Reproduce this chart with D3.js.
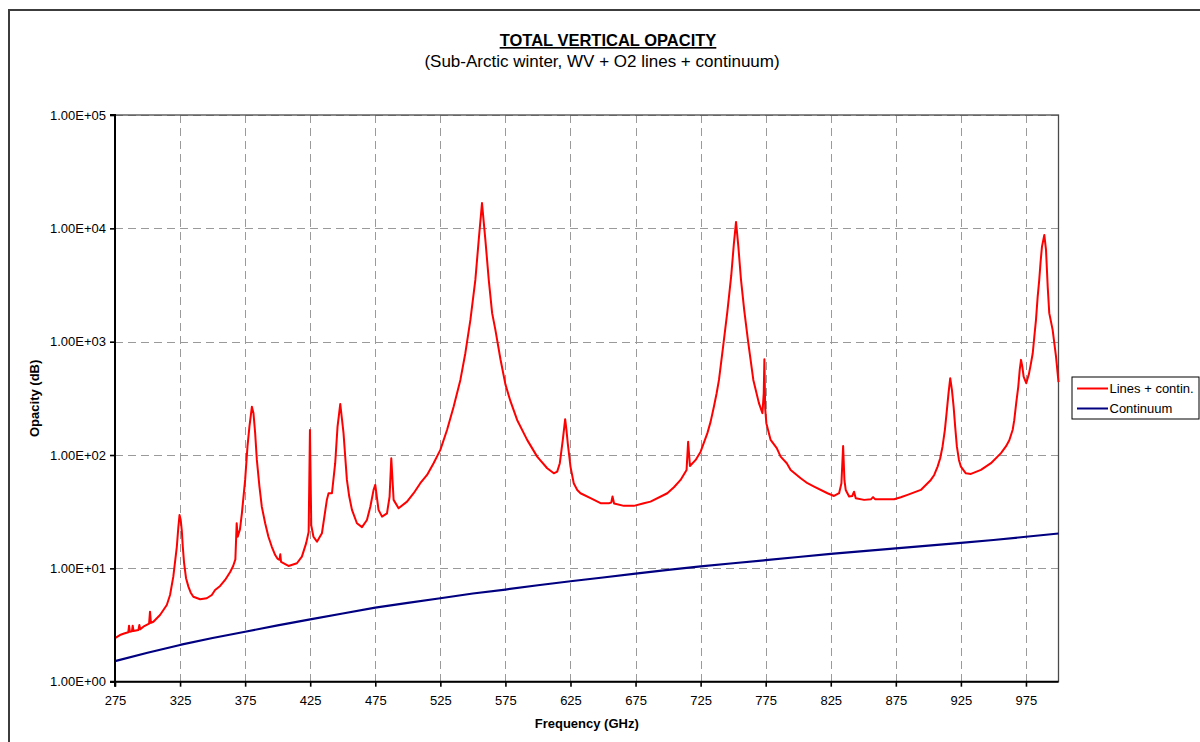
<!DOCTYPE html>
<html>
<head>
<meta charset="utf-8">
<script src="https://cdn.jsdelivr.net/npm/d3@7"></script>
<style>
  html, body { margin: 0; padding: 0; background: #ffffff; }
  svg { display: block; font-family: "Liberation Sans", Arial, sans-serif; }
</style>
</head>
<body>
<svg id="chart" width="1200" height="742"></svg>
<script>
// Total vertical opacity, sub-arctic winter atmosphere (WV + O2 lines + continuum)
const freqGHz = [
  275, 278.8, 282, 285.2, 285.8, 286.4, 288, 288.6, 289.2, 293,
  293.7, 294.4, 296.8, 301.2, 301.9, 302.6, 304.5, 309.6, 314.8, 317.3,
  319.8, 322.5, 323.7, 324.6, 325.5, 326.3, 327.1, 328.1, 329.6, 331.4,
  333.2, 335.2, 340.4, 345.5, 349.4, 351.9, 355.8, 359.6, 363.5, 365.8,
  367.5, 368.5, 369.3, 371, 372.5, 375, 376.8, 378.3, 380.2, 381.4,
  382.7, 384, 386, 387.8, 390.4, 392.9, 395.5, 398.1, 399.8, 401.4,
  402, 402.6, 408.3, 414.8, 418.6, 421.9, 423.8, 424.8, 425.8, 427.5,
  430.2, 434, 437.8, 439.1, 441.7, 444.2, 446, 448.1, 450.6, 451.9,
  453.2, 455, 457.1, 460.9, 464.8, 468.6, 471.2, 473.7, 475, 477.5,
  480.2, 484, 486, 487.3, 489.1, 492.9, 499.4, 504.5, 509.6, 514.8,
  519.8, 525, 530.2, 535.2, 540.4, 544.2, 548.1, 551.9, 554.5, 557,
  559.6, 562.2, 564.8, 567.3, 571.2, 575, 578.8, 584, 591.7, 599.4,
  607.1, 612.2, 614.8, 616.8, 619.1, 620.9, 621.9, 622.9, 625, 627.5,
  630.2, 632.7, 640.4, 648.1, 654.5, 656.3, 657.3, 658.5, 666, 673.7,
  681.4, 686.5, 699.4, 704.5, 709.6, 714.2, 715.4, 716.8, 721.2, 725,
  730.2, 732.7, 735.2, 737.3, 739.1, 742.3, 745.5, 748.5, 750.5, 752.2,
  754, 756, 758.5, 761.5, 765.5, 769.8, 772.5, 773.5, 774, 774.6,
  775.5, 778.8, 783.5, 786.5, 791.2, 794.2, 801.9, 807.1, 812.2, 822.5,
  827.5, 831.4, 833.2, 834.5, 835.5, 836.5, 839.1, 841.5, 842.9, 844.2,
  850.6, 856, 857.5, 859, 866, 873.7, 878.8, 884, 894.2, 901.9,
  904.5, 907.1, 909.1, 910.9, 912.7, 914, 915.5, 916.8, 918.1, 919.4,
  920.6, 921.9, 923.5, 925, 928.8, 932.7, 940.4, 948.1, 955.8, 959.6,
  962.2, 964.8, 966, 967.5, 969.1, 970.2, 971.2, 972.2, 973.2, 975.2,
  977.3, 978.8, 980.2, 981.4, 982.7, 984, 985.2, 986.2, 987.3, 989.1,
  990.4, 991.7, 992.9, 995.5, 998.1, 1000
];
const totalDb = [
  2.42, 2.58, 2.66, 2.73, 3.12, 2.76, 2.78, 3.12, 2.80, 2.86,
  3.16, 2.90, 3.06, 3.25, 4.15, 3.30, 3.38, 3.88, 4.75, 5.82,
  8.45, 15.5, 23.3, 29.6, 26.7, 21.8, 15.5, 11.1, 8.18, 6.9,
  6.1, 5.62, 5.34, 5.45, 5.82, 6.45, 7.0, 7.9, 9.3, 10.5,
  12.0, 25, 19, 22, 30.6, 60.3, 119, 178, 267, 234,
  156, 90.5, 52.6, 35, 25, 19, 15.5, 13.1, 12.2, 11.9,
  13.3, 11.4, 10.5, 11.1, 12.7, 16.7, 21, 166, 24, 19.0,
  17.2, 20.4, 40.2, 46, 46, 84.7, 178, 282, 156, 96.8,
  60.3, 43, 32.8, 25, 23.1, 26.7, 35, 49.2, 54.5, 32.8,
  28.6, 30.6, 43, 93.7, 40.2, 33.9, 38.8, 46, 56.4, 66.7,
  84.7, 111, 167, 267, 460, 791, 1556, 3510, 7920, 16700,
  7920, 3510, 1786, 1270, 700, 420, 300, 204, 136, 96.8,
  76.4, 69, 71.4, 84.7, 136, 207, 167, 127, 79, 56.4,
  49.2, 46, 41.6, 37.6, 37.6, 38, 43, 37.4, 35.6, 35.6,
  37.6, 38.8, 46, 52, 60.3, 73.9, 131, 80.1, 90.5, 107,
  156, 197, 267, 351, 460, 910, 1820, 3800, 7200, 11400,
  6900, 3550, 1900, 1000, 460, 287, 234, 350, 700, 260,
  191, 136, 115, 96.8, 84.7, 73.9, 62.4, 56.4, 52.6, 46,
  43.5, 46, 56.4, 120, 60, 49.2, 43, 43.5, 47.5, 41.6,
  40.2, 40.8, 42.5, 40.8, 40.7, 40.7, 42.4, 44.5, 49.2, 60.3,
  66.7, 79, 93.7, 119, 167, 234, 351, 476, 376, 267,
  178, 119, 90.5, 79, 69, 68.1, 73.9, 84.7, 104, 119,
  135, 167, 203, 287, 402, 564, 691, 603, 492, 430,
  520, 640, 791, 1100, 1556, 2500, 3510, 5000, 6900, 8750,
  6460, 3060, 1786, 1270, 738, 440
];

const contFreqGHz = [
  275, 300, 325, 350, 375, 400, 425, 450, 475, 500, 525, 550, 575, 600, 625,
  650, 675, 700, 725, 750, 775, 800, 825, 850, 875, 900, 925, 950, 975, 1000
];
const continuumDb = [
  1.52, 1.80, 2.11, 2.43, 2.76, 3.14, 3.55, 4.0, 4.5, 4.96, 5.45, 6.0, 6.5, 7.1, 7.7,
  8.3, 9.0, 9.7, 10.4, 11.1, 11.8, 12.6, 13.4, 14.2, 15.0, 15.9, 16.8, 17.8, 19.0, 20.3
];

const xTicks = [275, 325, 375, 425, 475, 525, 575, 625, 675, 725, 775, 825, 875, 925, 975];
const yTicks = [1, 10, 100, 1000, 10000, 100000];
const yTickLabels = ["1.00E+00", "1.00E+01", "1.00E+02", "1.00E+03", "1.00E+04", "1.00E+05"];

const seriesNames = ["Lines + contin.", "Continuum"];
const seriesColors = ["#ff0000", "#000080"];

const titleText = "TOTAL VERTICAL OPACITY";
const subtitleText = "(Sub-Arctic winter, WV + O2 lines + continuum)";
const xTitle = "Frequency (GHz)";
const yTitle = "Opacity (dB)";

// ---- layout ----
const plot = { left: 115, right: 1058.5, top: 115, bottom: 681.7 };

const svg = d3.select("#chart");

svg.append("rect").attr("width", 1200).attr("height", 742).attr("fill", "#ffffff");

// chart-area frame
svg.append("rect")
  .attr("x", 9).attr("y", 10).attr("width", 1200).attr("height", 760)
  .attr("fill", "none").attr("stroke", "#3c3c3c").attr("stroke-width", 2);

const x = d3.scaleLinear().domain([275, 1000]).range([plot.left, plot.right]);
const y = d3.scaleLog().domain([1, 100000]).range([plot.bottom, plot.top]);

// gridlines
const grid = svg.append("g").attr("stroke", "#9a9a9a").attr("stroke-width", 1)
  .attr("stroke-dasharray", "8,5").attr("fill", "none");
grid.selectAll("line.h").data(yTicks.slice(1)).join("line")
  .attr("class", "h")
  .attr("x1", plot.left).attr("x2", plot.right)
  .attr("y1", d => Math.round(y(d)) + 0.5).attr("y2", d => Math.round(y(d)) + 0.5);
grid.selectAll("line.v").data(xTicks.slice(1)).join("line")
  .attr("class", "v")
  .attr("y1", plot.top).attr("y2", plot.bottom)
  .attr("x1", d => Math.round(x(d)) + 0.5).attr("x2", d => Math.round(x(d)) + 0.5);

// plot-area border
svg.append("rect")
  .attr("x", plot.left).attr("y", plot.top)
  .attr("width", plot.right - plot.left).attr("height", plot.bottom - plot.top)
  .attr("fill", "none").attr("stroke", "#4a4a4a").attr("stroke-width", 1.3);

// series
const lineGen = d3.line().x(d => x(d[0])).y(d => y(d[1]));

svg.append("path")
  .datum(contFreqGHz.map((f, i) => [f, continuumDb[i]]))
  .attr("d", lineGen)
  .attr("fill", "none").attr("stroke", seriesColors[1]).attr("stroke-width", 2.2)
  .attr("stroke-linejoin", "round");

svg.append("path")
  .datum(freqGHz.map((f, i) => [f, totalDb[i]]))
  .attr("d", lineGen)
  .attr("fill", "none").attr("stroke", seriesColors[0]).attr("stroke-width", 2)
  .attr("stroke-linejoin", "round");

// axes
const yAxis = d3.axisLeft(y).tickValues(yTicks)
  .tickFormat((d, i) => yTickLabels[i]).tickSize(5).tickPadding(4);
const gy = svg.append("g").attr("transform", `translate(${plot.left},0)`).call(yAxis);

const xAxis = d3.axisBottom(x).tickValues(xTicks).tickFormat(d3.format("d"))
  .tickSize(5).tickPadding(9);
const gx = svg.append("g").attr("transform", `translate(0,${plot.bottom})`).call(xAxis);

[gx, gy].forEach(g => {
  g.select(".domain").attr("stroke", "#000").attr("stroke-width", 2);
  g.selectAll(".tick line").attr("stroke", "#000").attr("stroke-width", 1.6);
  g.selectAll(".tick text").attr("fill", "#000")
    .style("font-family", '"Liberation Sans", Arial, sans-serif').style("font-size", "13px");
});
gy.select(".domain").attr("d", `M-5,${plot.bottom}H0V${plot.top}H-5`);
gx.select(".domain").attr("d", `M${plot.left},5V0H${plot.right}`);

// titles
svg.append("text")
  .attr("x", 608).attr("y", 46).attr("text-anchor", "middle")
  .style("font-size", "16.5px").style("font-weight", "bold")
  .style("text-decoration", "underline")
  .text(titleText);

svg.append("text")
  .attr("x", 602).attr("y", 67).attr("text-anchor", "middle")
  .style("font-size", "17px")
  .text(subtitleText);

svg.append("text")
  .attr("x", (plot.left + plot.right) / 2).attr("y", 728)
  .attr("text-anchor", "middle")
  .style("font-size", "13px").style("font-weight", "bold")
  .text(xTitle);

svg.append("text")
  .attr("transform", `translate(39,${(plot.top + plot.bottom) / 2}) rotate(-90)`)
  .attr("text-anchor", "middle")
  .style("font-size", "13px").style("font-weight", "bold")
  .text(yTitle);

// legend
const legend = svg.append("g").attr("transform", "translate(1072,377)");
legend.append("rect").attr("width", 127).attr("height", 42)
  .attr("fill", "#fff").attr("stroke", "#000").attr("stroke-width", 1);
seriesNames.forEach((name, i) => {
  const ly = 11.5 + i * 20;
  legend.append("line").attr("x1", 5).attr("x2", 36).attr("y1", ly).attr("y2", ly)
    .attr("stroke", seriesColors[i]).attr("stroke-width", 2);
  legend.append("text").attr("x", 37.5).attr("y", ly + 4.5)
    .style("font-size", "13px").text(name);
});
</script>
</body>
</html>
